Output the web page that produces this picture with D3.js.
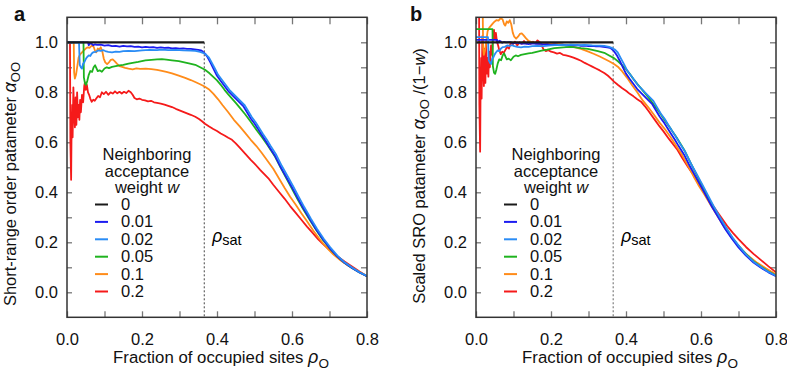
<!DOCTYPE html>
<html><head><meta charset="utf-8">
<script src="https://cdn.jsdelivr.net/npm/d3@7"></script>
<style>
body{margin:0;background:#fff;}
text{font-family:"Liberation Sans",Arial,sans-serif;}
</style></head>
<body><svg id="c" width="787" height="373"></svg>
<script>
// ---------- data: [rho_O, alpha_OO] ----------
const weights = [0, 0.01, 0.02, 0.05, 0.1, 0.2];
const weightLabels = ["0", "0.01", "0.02", "0.05", "0.1", "0.2"];
const colors = ["#1a1a1a", "#1c1cf0", "#2a8cf5", "#1fb31f", "#ff8c1a", "#f51a1a"];
const rhoSat = 0.366;
const xTicks = [0, 0.2, 0.4, 0.6, 0.8];
const yTicks = [0, 0.2, 0.4, 0.6, 0.8, 1.0];

const alphaW0 = [[0,1],[0.366,1]];
const alphaW001 = [[0,1],[0.056,1],[0.058,0.988],[0.062,0.996],[0.066,0.994],[0.07,0.988],[0.075,0.992],[0.08,0.99],[0.09,0.991],[0.1,0.987],[0.11,0.989],[0.12,0.985],[0.13,0.986],[0.14,0.983],[0.15,0.986],[0.16,0.984],[0.17,0.985],[0.18,0.982],[0.19,0.983],[0.2,0.98],[0.21,0.982],[0.22,0.98],[0.23,0.981],[0.24,0.978],[0.25,0.98],[0.26,0.978],[0.27,0.979],[0.28,0.976],[0.29,0.977],[0.3,0.975],[0.31,0.976],[0.32,0.974],[0.33,0.974],[0.34,0.972],[0.35,0.97],[0.357,0.968],[0.362,0.963],[0.368,0.955],[0.375,0.94],[0.383,0.918],[0.392,0.89],[0.4,0.866],[0.41,0.845],[0.42,0.825],[0.43,0.805],[0.44,0.79],[0.45,0.775],[0.46,0.76],[0.47,0.745],[0.48,0.72],[0.49,0.695],[0.5,0.675],[0.51,0.652],[0.52,0.628],[0.53,0.605],[0.54,0.58],[0.555,0.545],[0.57,0.5],[0.585,0.46],[0.6,0.42],[0.615,0.378],[0.63,0.337],[0.648,0.292],[0.665,0.25],[0.683,0.211],[0.7,0.178],[0.72,0.145],[0.74,0.118],[0.76,0.097],[0.78,0.079],[0.8,0.064]];
const alphaW002 = [[0,1],[0.032,1],[0.034,0.91],[0.037,0.9],[0.04,0.895],[0.043,0.915],[0.046,0.92],[0.049,0.93],[0.053,0.94],[0.058,0.948],[0.062,0.945],[0.066,0.955],[0.071,0.961],[0.077,0.962],[0.084,0.968],[0.09,0.966],[0.096,0.969],[0.102,0.965],[0.11,0.962],[0.12,0.96],[0.13,0.963],[0.14,0.962],[0.15,0.965],[0.164,0.966],[0.18,0.965],[0.2,0.968],[0.22,0.97],[0.24,0.969],[0.253,0.971],[0.27,0.969],[0.29,0.97],[0.31,0.968],[0.33,0.967],[0.342,0.966],[0.355,0.962],[0.362,0.958],[0.37,0.952],[0.378,0.94],[0.386,0.918],[0.395,0.893],[0.403,0.87],[0.413,0.85],[0.423,0.83],[0.433,0.81],[0.443,0.795],[0.453,0.78],[0.463,0.765],[0.473,0.75],[0.483,0.725],[0.493,0.7],[0.503,0.68],[0.513,0.656],[0.523,0.632],[0.533,0.61],[0.543,0.585],[0.558,0.55],[0.573,0.505],[0.588,0.465],[0.603,0.424],[0.618,0.382],[0.633,0.34],[0.65,0.295],[0.667,0.253],[0.685,0.213],[0.702,0.18],[0.721,0.147],[0.741,0.119],[0.761,0.098],[0.78,0.08],[0.8,0.065]];
const alphaW005 = [[0,1],[0.044,1],[0.045,0.86],[0.048,0.835],[0.051,0.83],[0.054,0.845],[0.058,0.87],[0.062,0.885],[0.067,0.882],[0.071,0.9],[0.075,0.908],[0.079,0.895],[0.082,0.885],[0.087,0.888],[0.093,0.882],[0.1,0.895],[0.106,0.9],[0.112,0.897],[0.12,0.902],[0.13,0.905],[0.14,0.908],[0.15,0.91],[0.164,0.915],[0.175,0.918],[0.19,0.922],[0.209,0.928],[0.225,0.93],[0.24,0.932],[0.253,0.933],[0.265,0.931],[0.28,0.928],[0.298,0.925],[0.31,0.921],[0.325,0.916],[0.342,0.91],[0.355,0.9],[0.368,0.89],[0.38,0.876],[0.39,0.862],[0.4,0.848],[0.41,0.83],[0.42,0.81],[0.43,0.792],[0.44,0.775],[0.45,0.758],[0.46,0.74],[0.475,0.712],[0.49,0.682],[0.505,0.65],[0.52,0.62],[0.535,0.588],[0.555,0.542],[0.57,0.498],[0.585,0.456],[0.6,0.414],[0.615,0.372],[0.63,0.332],[0.648,0.288],[0.665,0.248],[0.683,0.208],[0.7,0.177],[0.72,0.145],[0.74,0.118],[0.76,0.097],[0.78,0.079],[0.8,0.064]];
const alphaW01 = [[0,1],[0.018,1],[0.019,0.88],[0.021,0.855],[0.024,0.87],[0.027,0.9],[0.031,0.94],[0.035,0.952],[0.04,0.96],[0.045,0.968],[0.05,0.975],[0.055,0.98],[0.06,0.978],[0.066,0.987],[0.071,0.982],[0.075,0.965],[0.078,0.96],[0.082,0.975],[0.086,0.97],[0.09,0.98],[0.094,0.965],[0.098,0.935],[0.102,0.92],[0.107,0.913],[0.112,0.92],[0.117,0.93],[0.122,0.932],[0.127,0.925],[0.133,0.915],[0.14,0.905],[0.147,0.902],[0.155,0.898],[0.164,0.895],[0.175,0.892],[0.185,0.896],[0.195,0.894],[0.21,0.895],[0.225,0.893],[0.24,0.89],[0.253,0.886],[0.265,0.882],[0.28,0.876],[0.298,0.867],[0.315,0.858],[0.33,0.849],[0.342,0.841],[0.355,0.832],[0.368,0.822],[0.38,0.81],[0.39,0.795],[0.403,0.772],[0.415,0.748],[0.43,0.72],[0.445,0.69],[0.46,0.665],[0.475,0.638],[0.49,0.61],[0.505,0.585],[0.519,0.558],[0.535,0.525],[0.55,0.494],[0.565,0.456],[0.58,0.418],[0.595,0.382],[0.61,0.35],[0.625,0.316],[0.64,0.284],[0.657,0.246],[0.67,0.22],[0.683,0.195],[0.697,0.172],[0.71,0.152],[0.73,0.127],[0.75,0.106],[0.775,0.085],[0.8,0.065]];
const alphaW02 = [[0,1],[0.008,1],[0.009,0.6],[0.011,0.45],[0.012,0.62],[0.014,0.75],[0.015,0.62],[0.017,0.82],[0.019,0.72],[0.021,0.66],[0.023,0.78],[0.025,0.67],[0.027,0.8],[0.029,0.7],[0.031,0.75],[0.033,0.69],[0.035,0.77],[0.037,0.72],[0.04,0.79],[0.043,0.76],[0.046,0.825],[0.048,0.84],[0.05,0.81],[0.053,0.83],[0.056,0.8],[0.059,0.79],[0.062,0.775],[0.066,0.762],[0.07,0.77],[0.074,0.766],[0.078,0.775],[0.083,0.785],[0.088,0.78],[0.093,0.8],[0.098,0.793],[0.104,0.802],[0.11,0.79],[0.116,0.8],[0.122,0.795],[0.128,0.804],[0.134,0.796],[0.14,0.802],[0.146,0.795],[0.152,0.802],[0.158,0.797],[0.164,0.806],[0.17,0.8],[0.175,0.79],[0.18,0.777],[0.186,0.772],[0.193,0.775],[0.2,0.77],[0.208,0.768],[0.216,0.764],[0.224,0.766],[0.232,0.76],[0.24,0.758],[0.25,0.755],[0.26,0.751],[0.27,0.746],[0.28,0.741],[0.29,0.734],[0.3,0.728],[0.31,0.722],[0.32,0.716],[0.33,0.71],[0.342,0.702],[0.352,0.693],[0.36,0.684],[0.368,0.674],[0.378,0.664],[0.39,0.653],[0.4,0.645],[0.41,0.635],[0.42,0.627],[0.43,0.618],[0.44,0.61],[0.45,0.596],[0.46,0.58],[0.475,0.555],[0.49,0.53],[0.5,0.515],[0.515,0.49],[0.537,0.456],[0.55,0.43],[0.565,0.402],[0.58,0.375],[0.595,0.345],[0.61,0.318],[0.625,0.29],[0.64,0.263],[0.655,0.238],[0.67,0.212],[0.685,0.19],[0.7,0.17],[0.72,0.145],[0.74,0.123],[0.76,0.103],[0.78,0.083],[0.8,0.064]];

const seriesA = [alphaW0, alphaW001, alphaW002, alphaW005, alphaW01, alphaW02];

// ---------- drawing ----------
const svg = d3.select("#c");
const H = {top: 17.3, bottom: 317.3};
const drawOrder = [5, 4, 3, 1, 2, 0];
const FS = 16.5;

function panel(opts) {
  const x = d3.scaleLinear().domain([0, 0.8]).range([opts.left, opts.left + 300]);
  const y = d3.scaleLinear().domain([-0.1, 1.1]).range([H.bottom, H.top]);
  const g = svg.append("g");
  const clipId = "clip" + opts.id;
  svg.append("clipPath").attr("id", clipId).append("rect")
    .attr("x", x(0)).attr("y", H.top).attr("width", 300).attr("height", H.bottom - H.top);

  const minorX = d3.range(0, 9).map(i => i / 10);
  const minorY = d3.range(0, 11).map(i => i / 10);
  const tickCol = "#777";
  const axB = g.append("g").attr("transform", `translate(0,${H.bottom})`)
    .call(d3.axisBottom(x).tickValues(minorX).tickSize(-6).tickFormat(""));
  const axT = g.append("g").attr("transform", `translate(0,${H.top})`)
    .call(d3.axisTop(x).tickValues(minorX).tickSize(-7).tickFormat(""));
  const axL = g.append("g").attr("transform", `translate(${x(0)},0)`)
    .call(d3.axisLeft(y).tickValues(minorY).tickSize(-5).tickFormat(""));
  const axR = g.append("g").attr("transform", `translate(${x(0.8)},0)`)
    .call(d3.axisRight(y).tickValues(minorY).tickSize(-6).tickFormat(""));
  [axB, axT, axL, axR].forEach(a => {
    a.select(".domain").remove();
    a.selectAll("line").attr("stroke", tickCol).attr("stroke-width", 1.3);
  });
  const lblX = g.append("g").attr("transform", `translate(0,${H.bottom})`)
    .call(d3.axisBottom(x).tickValues(xTicks).tickSize(0).tickPadding(16).tickFormat(d3.format(".1f")));
  const lblY = g.append("g").attr("transform", `translate(${x(0)},0)`)
    .call(d3.axisLeft(y).tickValues(yTicks).tickSize(0).tickPadding(9).tickFormat(d3.format(".1f")));
  [lblX, lblY].forEach(a => {
    a.select(".domain").remove();
    a.selectAll("text").attr("font-size", FS).attr("fill", "#111")
      .attr("font-family", '"Liberation Sans",Arial,sans-serif');
  });

  g.append("line").attr("x1", x(rhoSat)).attr("x2", x(rhoSat))
    .attr("y1", y(1.0)).attr("y2", H.bottom)
    .attr("stroke", opts.dotCol).attr("stroke-width", opts.dotW).attr("stroke-dasharray", "2,2");

  const line = d3.line().x(d => x(d[0])).y(d => y(d[1] / opts.scaleFn(d.w)));
  const cg = g.append("g").attr("clip-path", `url(#${clipId})`);
  drawOrder.forEach(i => {
    const w = weights[i];
    const pts = seriesA[i].map(p => { const q = [p[0], p[1]]; q.w = w; return q; });
    cg.append("path").datum(pts).attr("d", line)
      .attr("fill", "none").attr("stroke", colors[i])
      .attr("stroke-width", i === 0 ? 2.2 : 1.8).attr("stroke-linejoin", "round");
  });

  g.append("rect").attr("x", x(0)).attr("y", H.top).attr("width", 300).attr("height", H.bottom - H.top)
    .attr("fill", "none").attr("stroke", "#333").attr("stroke-width", 1.5);

  const rs = g.append("text").attr("x", x(rhoSat) + 8).attr("y", 242).attr("font-size", 17.5);
  rs.append("tspan").text("ρ").attr("font-style", "italic");
  rs.append("tspan").text("sat").attr("font-size", 14.5).attr("dy", 3);

  const lx = opts.legX;
  const title = ["Neighboring", "acceptance", "weight "];
  title.forEach((t, k) => {
    const tt = g.append("text").attr("x", lx + 52).attr("y", 160 + k * 16.5)
      .attr("text-anchor", "middle").attr("font-size", FS).attr("fill", "#111").text(t);
    if (k === 2) tt.append("tspan").attr("font-style", "italic").text("w");
  });
  weightLabels.forEach((lab, i) => {
    const yy = 204.5 + i * 17.4;
    g.append("line").attr("x1", lx).attr("x2", lx + 13).attr("y1", yy).attr("y2", yy)
      .attr("stroke", colors[i]).attr("stroke-width", 2);
    g.append("text").attr("x", lx + 26).attr("y", yy + 5.5).attr("font-size", FS)
      .attr("fill", "#111").text(lab);
  });

  const xt = g.append("text").attr("x", x(0.4) + 4).attr("y", 363)
    .attr("text-anchor", "middle").attr("font-size", 16.8).attr("fill", "#111");
  xt.append("tspan").text("Fraction of occupied sites ");
  xt.append("tspan").text("ρ").attr("font-style", "italic").attr("font-size", 18);
  xt.append("tspan").text("O").attr("font-size", 13.5).attr("dy", 5);

  const yt = g.append("text").attr("transform", `translate(${opts.yTitleX},${opts.yTitleY}) rotate(-90)`)
    .attr("text-anchor", "middle").attr("font-size", FS).attr("fill", "#111");
  opts.yTitle(yt);

  svg.append("text").attr("x", opts.letterX).attr("y", 21).attr("font-size", 20)
    .attr("font-weight", "bold").attr("fill", "#111").text(opts.letter);
}

panel({
  id: "a", left: 67, letter: "a", letterX: 14, legX: 95,
  dotCol: "#444", dotW: 1,
  scaleFn: w => 1,
  yTitleX: 16, yTitleY: 184,
  yTitle: t => {
    t.append("tspan").text("Short-range order patameter ");
    t.append("tspan").text("α").attr("font-style", "italic").attr("font-size", 18);
    t.append("tspan").text("OO").attr("font-size", 13).attr("dy", 4);
  }
});
panel({
  id: "b", left: 476, letter: "b", letterX: 410, legX: 504,
  dotCol: "#999", dotW: 1.5,
  scaleFn: w => 1 - w,
  yTitleX: 425, yTitleY: 176,
  yTitle: t => {
    t.append("tspan").text("Scaled SRO patameter ");
    t.append("tspan").text("α").attr("font-style", "italic").attr("font-size", 18);
    t.append("tspan").text("OO").attr("font-size", 13).attr("dy", 4);
    t.append("tspan").text(" /(1−").attr("dy", -4);
    t.append("tspan").text("w").attr("font-style", "italic");
    t.append("tspan").text(")");
  }
});
</script></body></html>
